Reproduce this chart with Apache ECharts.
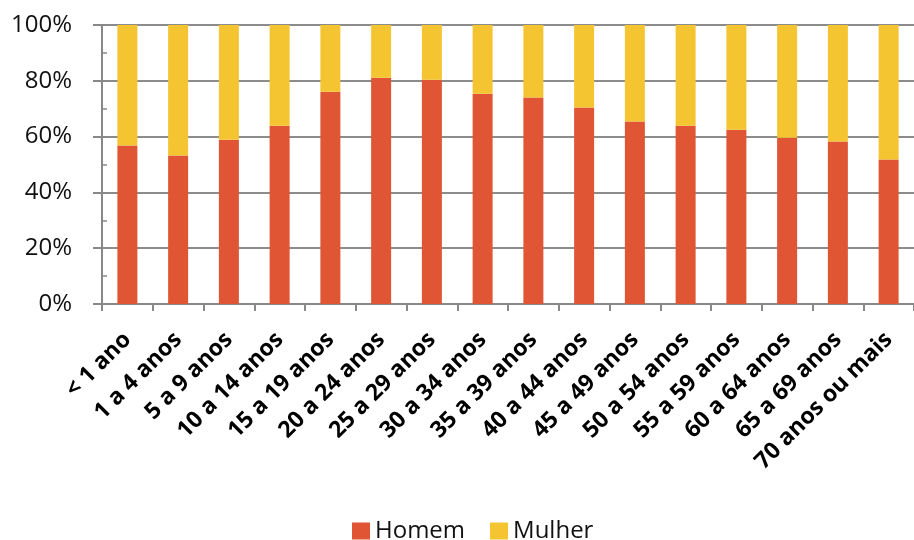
<!DOCTYPE html>
<html>
<head>
<meta charset="utf-8">
<script src="https://cdn.jsdelivr.net/npm/echarts@6/dist/echarts.min.js"></script>
<style>
  html, body { margin: 0; padding: 0; background: #fff; }
  #chart { width: 914px; height: 540px; }
</style>
</head>
<body>
<div id="chart"></div>
<script>
const categories = ['< 1 ano', '1 a 4 anos', '5 a 9 anos', '10 a 14 anos', '15 a 19 anos', '20 a 24 anos',
  '25 a 29 anos', '30 a 34 anos', '35 a 39 anos', '40 a 44 anos', '45 a 49 anos', '50 a 54 anos',
  '55 a 59 anos', '60 a 64 anos', '65 a 69 anos', '70 anos ou mais'];
const homem = [56.8, 53.2, 58.9, 63.9, 76.1, 81.1, 80.4, 75.4, 74.0, 70.4, 65.4, 63.9, 62.5, 59.6, 58.2, 51.8];
const mulher = [43.2, 46.8, 41.1, 36.1, 23.9, 18.9, 19.6, 24.6, 26.0, 29.6, 34.6, 36.1, 37.5, 40.4, 41.8, 48.2];

const chart = echarts.init(document.getElementById('chart'));
const font = "'Open Sans', sans-serif";

chart.setOption({
  animation: false,
  textStyle: { fontFamily: font },
  grid: { left: 102, right: -5, top: 25, bottom: 236, containLabel: false },
  legend: {
    data: ['Homem', 'Mulher'],
    top: 514,
    left: 347,
    icon: 'rect',
    itemWidth: 18,
    itemHeight: 17,
    itemGap: 25,
    textStyle: { fontSize: 24, color: '#111', fontFamily: font }
  },
  xAxis: {
    type: 'category',
    data: categories,
    boundaryGap: true,
    axisLine: { lineStyle: { color: '#888', width: 2 } },
    axisTick: { show: true, alignWithLabel: false, length: 7, lineStyle: { color: '#888', width: 2 } },
    axisLabel: {
      interval: 0,
      rotate: 45,
      margin: 32,
      fontSize: 23,
      fontWeight: 'bold',
      color: '#000',
      fontFamily: font
    }
  },
  yAxis: [
    {
      type: 'value',
      min: 0,
      max: 100,
      interval: 20,
      axisLine: { show: true, lineStyle: { color: '#888', width: 2 } },
      axisTick: { show: true, length: 9, lineStyle: { color: '#888', width: 2 } },
      splitLine: { lineStyle: { color: '#8c8c8c', width: 2 } },
      axisLabel: {
        fontSize: 24,
        color: '#111',
        margin: 30,
        fontFamily: font,
        formatter: '{value}%'
      }
    },
    {
      // minor ticks pointing inside
      type: 'value',
      position: 'left',
      min: 0,
      max: 100,
      interval: 10,
      axisLine: { show: false },
      axisTick: { show: true, inside: true, length: 5, lineStyle: { color: '#888', width: 1.5 } },
      splitLine: { show: false },
      axisLabel: { show: false }
    }
  ],
  series: [
    {
      name: 'Homem',
      type: 'bar',
      stack: 'total',
      data: homem,
      barWidth: 20,
      itemStyle: { color: '#E05533' }
    },
    {
      name: 'Mulher',
      type: 'bar',
      stack: 'total',
      data: mulher,
      barWidth: 20,
      itemStyle: { color: '#F5C431' }
    }
  ]
});
</script>
</body>
</html>
